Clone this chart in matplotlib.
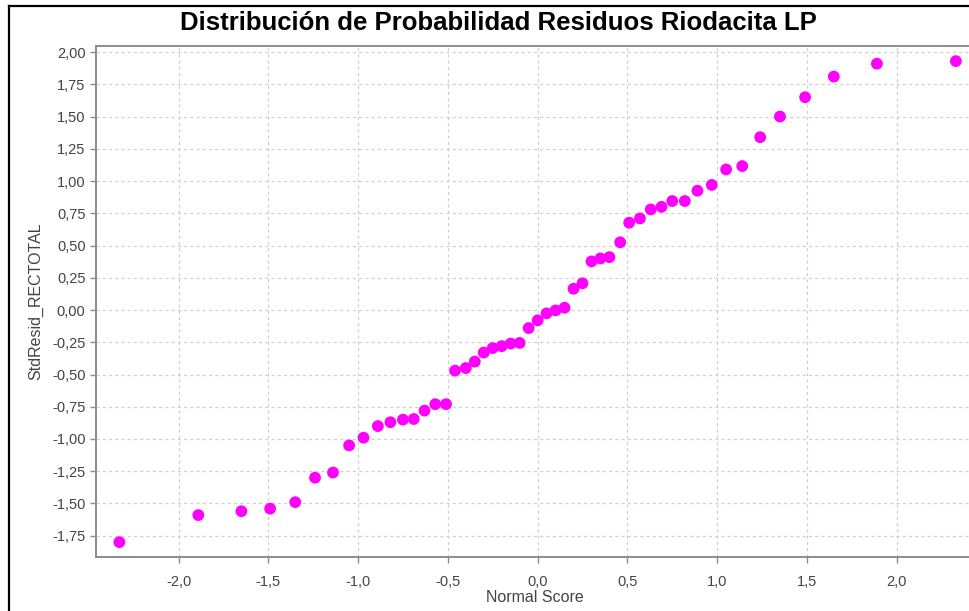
import numpy as np
import matplotlib
matplotlib.use("Agg")
import matplotlib.pyplot as plt
from matplotlib.ticker import FuncFormatter

# normal scores (x) and standardized residuals (y)
normal_score = [-2.33, -1.89, -1.65, -1.49, -1.35, -1.24, -1.14, -1.05, -0.97, -0.89,
                -0.82, -0.75, -0.69, -0.63, -0.57, -0.51, -0.46, -0.40, -0.35, -0.30,
                -0.25, -0.20, -0.15, -0.10, -0.05, 0.00, 0.05, 0.10, 0.15, 0.20,
                0.25, 0.30, 0.35, 0.40, 0.46, 0.51, 0.57, 0.63, 0.69, 0.75,
                0.82, 0.89, 0.97, 1.05, 1.14, 1.24, 1.35, 1.49, 1.65, 1.89, 2.33]
std_resid = [-1.80, -1.59, -1.56, -1.54, -1.49, -1.30, -1.26, -1.05, -0.99, -0.90,
             -0.87, -0.85, -0.845, -0.78, -0.73, -0.73, -0.47, -0.45, -0.40, -0.33,
             -0.295, -0.28, -0.26, -0.255, -0.14, -0.08, -0.026, -0.003, 0.018, 0.165,
             0.207, 0.377, 0.40, 0.41, 0.525, 0.677, 0.71, 0.78, 0.80, 0.845,
             0.845, 0.925, 0.97, 1.09, 1.116, 1.34, 1.50, 1.65, 1.81, 1.91, 1.93]

title = "Distribución de Probabilidad Residuos Riodacita LP"
x_label = "Normal Score"
y_label = "StdResid_RECTOTAL"

plt.rcParams['font.family'] = ['Liberation Sans', 'DejaVu Sans']

fig = plt.figure(figsize=(9.69, 6.11), dpi=100)
ax = fig.add_axes([96 / 969, 1 - 557 / 611, 1.005 - 96 / 969, (557 - 46) / 611])

ax.scatter(normal_score, std_resid, s=72, color='#ff00ff', edgecolors='none', zorder=3)

ax.set_xlim(-2.46, 2.43)
ax.set_ylim(-1.915, 2.047)
ax.set_xticks(np.arange(-2.0, 2.01, 0.5))
ax.set_yticks(np.arange(-1.75, 2.01, 0.25))
ax.xaxis.set_major_formatter(FuncFormatter(lambda v, p: f"{v:.1f}".replace('.', ',').replace('-0,0', '0,0')))
ax.yaxis.set_major_formatter(FuncFormatter(lambda v, p: f"{v:.2f}".replace('.', ',').replace('-0,00', '0,00')))

ax.grid(True, color='#d0d0d0', linestyle=(0, (2.5, 2.5)), linewidth=0.9)
ax.set_axisbelow(True)
for s in ax.spines.values():
    s.set_color('#8c8c8c')
    s.set_linewidth(1.4)
ax.spines['right'].set_visible(False)
ax.tick_params(colors='#8c8c8c', labelcolor='#444444', labelsize=10.5, length=4, width=1, direction='out')
ax.tick_params(axis='x', pad=9)

ax.set_xlabel(x_label, fontsize=11.5, color='#444444', labelpad=1)
ax.set_ylabel(y_label, fontsize=11.5, color='#444444', labelpad=6)

fig.text(498 / 969, 1 - 23 / 611, title, ha='center', va='center', fontsize=18.5, fontweight='bold', color='black')

# outer frame (left and top edges visible)
fig.add_artist(plt.Line2D([9 / 969, 9 / 969], [0, 1 - 6 / 611], transform=fig.transFigure, color='black', linewidth=1.6))
fig.add_artist(plt.Line2D([9 / 969, 1], [1 - 6 / 611, 1 - 6 / 611], transform=fig.transFigure, color='black', linewidth=1.6))

fig.savefig("out.png", dpi=100)
